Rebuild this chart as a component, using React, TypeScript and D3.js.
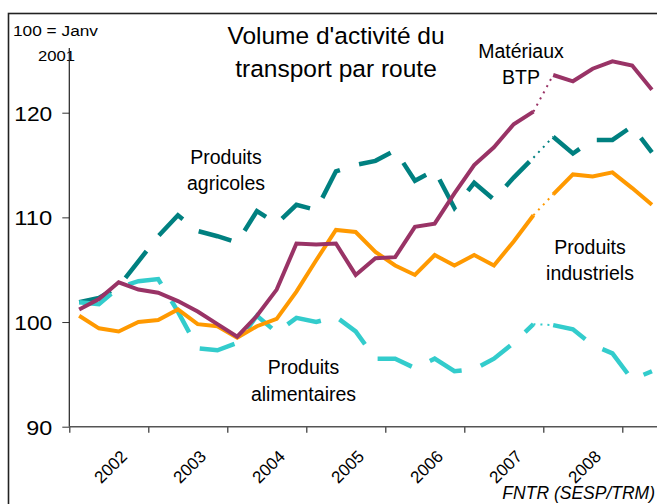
import React, { useEffect, useRef } from 'react';
import * as d3 from 'd3';

// quarterly index, 100 = Janv 2001
const periods = [
  '2002T1', '2002T2', '2002T3', '2002T4',
  '2003T1', '2003T2', '2003T3', '2003T4',
  '2004T1', '2004T2', '2004T3', '2004T4',
  '2005T1', '2005T2', '2005T3', '2005T4',
  '2006T1', '2006T2', '2006T3', '2006T4',
  '2007T1', '2007T2', '2007T3', '2007T4',
  '2008T1', '2008T2', '2008T3', '2008T4',
  '2009T1', '2009T2',
];

const materiauxBtp = [
  101.2, 102.2, 103.8, 103.1, 102.8, 102.0, 101.0, 99.8, 98.6, 100.6,
  103.1, 107.5, 107.4, 107.5, 104.5, 106.1, 106.2, 109.1, 109.4, 112.3,
  115.0, 116.7, 118.9, 120.1, 123.6, 123.0, 124.2, 124.9, 124.5, 122.2,
];
const produitsAgricoles = [
  101.9, 102.3, 103.4, 105.8, 108.2, 110.2, 108.7, 108.2, 107.6, 110.6,
  109.4, 111.2, 110.7, 114.4, 115.0, 115.4, 116.4, 113.5, 114.5, 110.9,
  113.3, 111.7, 113.8, 115.7, 117.7, 116.1, 117.4, 117.4, 118.7, 116.2,
];
const produitsIndustriels = [
  100.6, 99.4, 99.1, 100.0, 100.2, 101.2, 99.8, 99.6, 98.5, 99.6,
  100.3, 102.9, 105.9, 108.8, 108.6, 106.7, 105.4, 104.5, 106.4, 105.4,
  106.4, 105.4, 107.7, 110.2, 112.2, 114.1, 113.9, 114.3, 112.8, 111.2,
];
const produitsAlimentaires = [
  101.9, 101.7, 103.3, 103.9, 104.1, 101.0, 97.5, 97.3, 98.0, 100.6,
  99.0, 100.4, 100.0, 100.5, 99.1, 96.5, 96.5, 95.6, 96.5, 95.3,
  95.5, 96.5, 98.0, 99.8, 99.7, 99.3, 97.8, 97.0, 94.5, 95.3,
];

const years = ['2002', '2003', '2004', '2005', '2006', '2007', '2008'];
const yTicks = [90, 100, 110, 120];
// series change between 2007T4 and 2008T1 (dotted link)
const breakAfter = '2007T4';

const series = [
  { name: 'agricoles', values: produitsAgricoles, color: '#008080', width: 4.5, dash: '34 20' },
  { name: 'alimentaires', values: produitsAlimentaires, color: '#33CCCC', width: 4.5, dash: '36 20' },
  { name: 'industriels', values: produitsIndustriels, color: '#FF9900', width: 4, dash: null },
  { name: 'btp', values: materiauxBtp, color: '#993366', width: 4, dash: null },
];

const labels = [
  { lines: ['Produits', 'agricoles'], x: 226, y: 163.5 },
  { lines: ['Matériaux', 'BTP'], x: 521, y: 57.5 },
  { lines: ['Produits', 'industriels'], x: 590, y: 253.5 },
  { lines: ['Produits', 'alimentaires'], x: 303.5, y: 374 },
];

const FONT = '"Liberation Sans", Arial, sans-serif';

const App = () => {
  const ref = useRef(null);

  useEffect(() => {
    const svg = d3.select(ref.current);
    svg.selectAll('*').remove();

    const x = d3.scaleLinear().domain([2002, 2009]).range([69.3, 622.3]);
    const y = d3.scaleLinear().domain([90, 120]).range([426.7, 112.7]);
    const px = (p) => x(+p.slice(0, 4) + (+p.slice(5) - 0.5) / 4);

    // frame
    svg.append('rect')
      .attr('x', 8.5).attr('y', 13.5).attr('width', 700).attr('height', 600)
      .attr('fill', 'white').attr('stroke', '#222').attr('stroke-width', 1.6);

    // title
    const title = svg.append('text')
      .attr('font-family', FONT).attr('font-size', 24.5).attr('text-anchor', 'middle');
    title.append('tspan').attr('x', 336).attr('y', 44).text("Volume d'activité du");
    title.append('tspan').attr('x', 336).attr('y', 77).text('transport par route');

    // base note
    svg.append('text').attr('x', 13).attr('y', 36)
      .attr('font-family', FONT).attr('font-size', 15.5)
      .attr('textLength', 85).attr('lengthAdjust', 'spacingAndGlyphs')
      .text('100 = Janv');
    svg.append('text').attr('x', 38).attr('y', 61)
      .attr('font-family', FONT).attr('font-size', 15.5)
      .attr('textLength', 37).attr('lengthAdjust', 'spacingAndGlyphs')
      .text('2001');

    // y axis
    const yAxis = svg.append('g')
      .attr('transform', 'translate(69.3,0)')
      .call(d3.axisLeft(y).tickValues(yTicks).tickSize(7).tickPadding(10));
    yAxis.select('.domain').remove();
    yAxis.selectAll('line').attr('stroke', '#333');
    yAxis.selectAll('text')
      .attr('font-family', FONT).attr('font-size', 20.5).attr('fill', '#000')
      .attr('dy', '0.37em')
      .attr('textLength', 38).attr('lengthAdjust', 'spacingAndGlyphs');
    yAxis.selectAll('text').filter((d) => d === 90)
      .attr('textLength', 26);
    svg.append('line')
      .attr('x1', 69.3).attr('x2', 69.3).attr('y1', 48).attr('y2', y(90))
      .attr('stroke', '#222').attr('stroke-width', 1.2);

    // x axis
    const xAxis = svg.append('g')
      .attr('transform', `translate(0,${y(90)})`)
      .call(d3.axisBottom(x).tickValues(d3.range(2002, 2010)).tickSize(6).tickFormat(() => ''));
    xAxis.select('.domain').remove();
    xAxis.selectAll('line').attr('stroke', '#333').attr('stroke-width', 1.2);
    svg.append('line')
      .attr('x1', 69.3).attr('x2', 660).attr('y1', y(90)).attr('y2', y(90))
      .attr('stroke', '#555').attr('stroke-width', 1.4);

    svg.append('g').selectAll('text')
      .data(years)
      .enter().append('text')
      .attr('transform', (d) => `translate(${x(+d + 0.5) + 2},467) rotate(-45)`)
      .attr('text-anchor', 'middle').attr('dominant-baseline', 'central')
      .attr('font-family', FONT).attr('font-size', 17)
      .text((d) => d);

    // lines
    const line = d3.line()
      .x((d) => px(d.p))
      .y((d) => y(d.v));
    const cut = periods.indexOf(breakAfter);
    const plot = svg.append('g');
    series.forEach((s) => {
      const pts = s.values.map((v, i) => ({ p: periods[i], v }));
      plot.append('path')
        .attr('d', line(pts.slice(cut, cut + 2)))
        .attr('fill', 'none').attr('stroke', s.color)
        .attr('stroke-width', 2).attr('stroke-dasharray', '2 5');
      [pts.slice(0, cut + 1), pts.slice(cut + 1)].forEach((part) => {
        plot.append('path')
          .attr('d', line(part))
          .attr('fill', 'none').attr('stroke', s.color)
          .attr('stroke-width', s.width)
          .attr('stroke-linejoin', 'miter')
          .attr('stroke-dasharray', s.dash);
      });
    });

    // series labels
    labels.forEach((l) => {
      const t = svg.append('text')
        .attr('font-family', FONT).attr('font-size', 19.5).attr('text-anchor', 'middle');
      l.lines.forEach((s, i) => {
        t.append('tspan').attr('x', l.x).attr('y', l.y + i * 26.5).text(s);
      });
    });

    // source
    svg.append('text')
      .attr('x', 655).attr('y', 499).attr('text-anchor', 'end')
      .attr('font-family', FONT).attr('font-size', 17.5).attr('font-style', 'italic')
      .text('FNTR (SESP/TRM)');
  }, []);

  return (
    <svg
      ref={ref}
      width={657}
      height={504}
      style={{ position: 'absolute', left: 0, top: 0, background: 'white' }}
    />
  );
};

export default App;
